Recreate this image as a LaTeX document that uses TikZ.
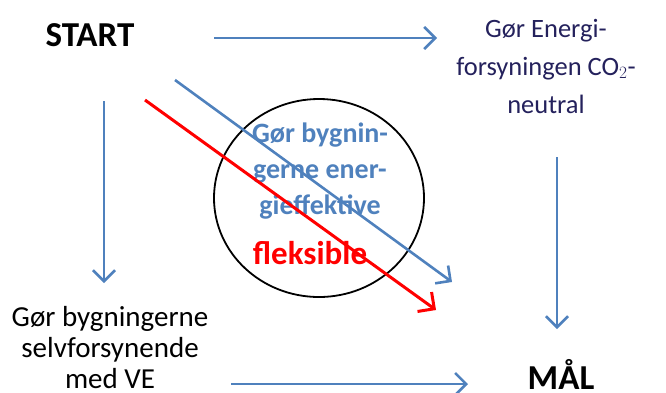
\documentclass[tikz,border=0pt]{standalone}
\usepackage{fontspec}
\setmainfont{Carlito}
\usepackage{tikz}
\usetikzlibrary{arrows.meta,positioning,shapes.geometric}
\definecolor{Blue}{HTML}{4F81BD}
\definecolor{Red}{HTML}{FF0000}
\definecolor{Navy}{HTML}{24215C}

\begin{document}
\begin{tikzpicture}[x=1pt,y=-1pt,
    flow/.style={draw=Blue,line width=2.6pt,
      -{Straight Barb[length=11pt,width=22pt,line width=2.6pt]}},
    redflow/.style={draw=Red,line width=3pt,
      -{Straight Barb[length=12pt,width=24pt,line width=3pt]}},
    big/.style={font=\fontsize{35}{40}\selectfont\bfseries,inner sep=0pt},
    goal/.style={align=center,inner sep=0pt}
  ]
    \useasboundingbox (0,0) rectangle (666,392);
    \node[big] (start) at (90,35) {START};
    \node[big] (maal) at (561,374) {MÅL};
    \node[goal,text=Navy,font=\fontsize{26.5}{38}\selectfont] (energi) at (546,66)
      {Gør Energi-\\forsyningen CO$_2$-\\neutral};
    \node[goal,font=\fontsize{29}{31}\selectfont] (selv) at (110,348)
      {Gør bygningerne\\selvforsynende\\med VE};
    \node[ellipse,draw,line width=1.8pt,minimum width=210pt,
      minimum height=198pt,inner sep=0pt] (ring) at (319,198) {};
    \node[goal,text=Blue,font=\fontsize{28}{36}\selectfont\bfseries] (eff) at (320,171)
      {Gør bygnin-\\gerne ener-\\gieffektive};
    \node[text=Red,font=\fontsize{33}{36}\selectfont\bfseries,inner sep=0pt]
      (fleks) at (310,253) {fleksible};
    % arrow ends
    \coordinate (t1) at (214,38); \coordinate (t2) at (437,38);
    \coordinate (l1) at (104,101); \coordinate (l2) at (104,283);
    \coordinate (r1) at (557,157); \coordinate (r2) at (557,329);
    \coordinate (b1) at (231,384); \coordinate (b2) at (468,384);
    \coordinate (d1) at (175,80); \coordinate (d2) at (452,282);
    \coordinate (e1) at (145,100); \coordinate (e2) at (436,310);
    \draw[flow] (t1) -- (t2);
    \draw[flow] (l1) -- (l2);
    \draw[flow] (r1) -- (r2);
    \draw[flow] (b1) -- (b2);
    \draw[redflow] (e1) -- (e2);
    \draw[flow] (d1) -- (d2);
  \end{tikzpicture}
\end{document}
